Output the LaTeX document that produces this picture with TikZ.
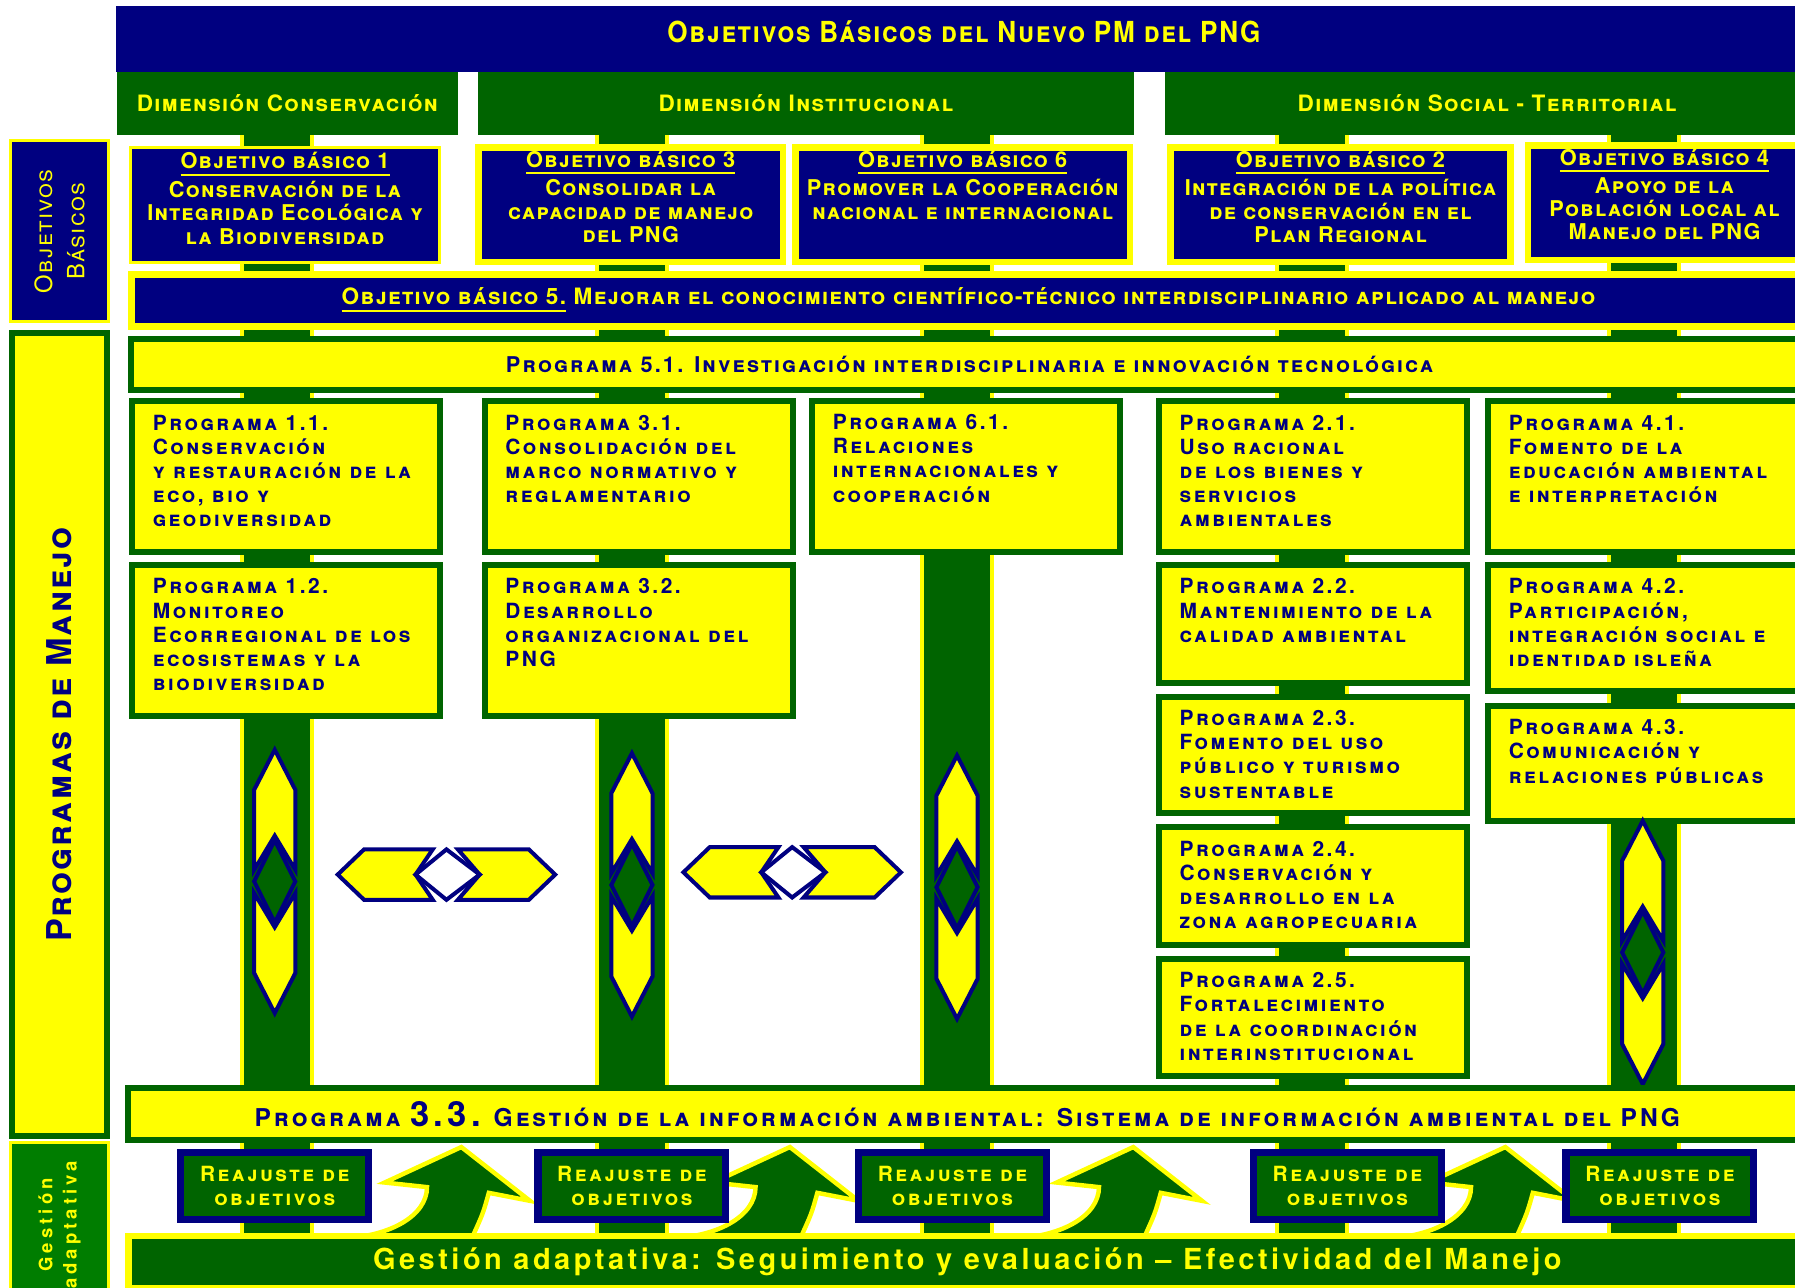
\documentclass[tikz,border=0pt]{standalone}
\usepackage{fontspec}
\setmainfont{TeX Gyre Heros}
\newfontfamily\titlefont{TeX Gyre Heros}[FakeStretch=0.9,LetterSpace=6]
\newfontfamily\headfont{TeX Gyre Heros}[LetterSpace=6]
\newfontfamily\midfont{TeX Gyre Heros}[LetterSpace=10]
\newfontfamily\progfont{TeX Gyre Heros}[LetterSpace=12]
\newfontfamily\widefont{TeX Gyre Heros}[LetterSpace=22]
\usetikzlibrary{positioning,calc}
\definecolor{PNGNavy}{RGB}{0,0,128}
\definecolor{PNGGreen}{RGB}{0,100,0}
\definecolor{PNGLeaf}{RGB}{0,125,0}
\definecolor{PNGYellow}{RGB}{255,255,0}

\begin{document}
\begin{tikzpicture}[x=0.01cm,y=-0.01cm,
  navybar/.style={fill=PNGNavy,inner sep=0,text=PNGYellow,
                  font=\titlefont\bfseries\scshape\fontsize{7.2}{8}\selectfont},
  dimbar/.style={fill=PNGGreen,inner sep=0,minimum height=0.55cm,text=PNGYellow,
                 font=\headfont\bfseries\scshape\fontsize{5.6}{6.5}\selectfont},
  objbox/.style={fill=PNGNavy,draw=PNGYellow,line width=1.6pt,inner sep=0,
                 minimum height=1.0cm},
  objtxt/.style={anchor=north,inner sep=0,align=center,text=PNGYellow,
                 font=\headfont\bfseries\scshape\fontsize{5.4}{5.8}\selectfont},
  progbox/.style={fill=PNGYellow,draw=PNGGreen,line width=1.5pt,inner sep=0,
                  minimum width=2.69cm},
  progtxt/.style={anchor=north west,inner sep=0,align=left,text=PNGNavy,
                  font=\progfont\bfseries\scshape\fontsize{5.2}{6}\selectfont},
  longbar/.style={fill=PNGYellow,draw=PNGGreen,line width=1.5pt,inner sep=0,
                  minimum width=14.65cm,text=PNGNavy},
  reajbox/.style={fill=PNGGreen,draw=PNGNavy,line width=1.8pt,inner sep=0,
                  minimum width=1.64cm,minimum height=0.58cm,align=center,text=PNGYellow,
                  font=\progfont\bfseries\scshape\fontsize{5.2}{6.2}\selectfont},
  dblarrow/.style={fill=PNGYellow,draw=PNGNavy,line width=1pt},
  turnarrow/.style={fill=PNGGreen,draw=PNGYellow,line width=1.1pt},
]
\useasboundingbox (0,0) rectangle (1568,1125);
\clip (0,0) rectangle (1568,1125);

% columns behind the boxes
\foreach \cx in {242,552,836,1146,1436} {
  \fill[PNGYellow] (\cx-32,100) rectangle (\cx+32,1090);
  \fill[PNGGreen] (\cx-29,100) rectangle (\cx+29,1090);
}

% heading and dimensions
\node[navybar,minimum width=14.8cm,minimum height=0.58cm,text depth=0.12cm] (title) at (842,34)
  {Objetivos Básicos del Nuevo PM del PNG};
\node[dimbar,minimum width=2.98cm] (dimcons) at (251,90.5) {Dimensión Conservación};
\node[dimbar,minimum width=5.72cm] (diminst) at (704,90.5) {Dimensión Institucional};
\node[dimbar,minimum width=5.62cm] (dimsoc) at (1299,90.5) {Dimensión Social - Territorial};

% basic objectives
\node[objbox,line width=0.8pt,minimum width=2.7cm] (ob1) at (249,179) {};
\node[objbox,minimum width=2.66cm] (ob3) at (551,179) {};
\node[objbox,minimum width=2.92cm] (ob6) at (841,179) {};
\node[objbox,minimum width=2.97cm] (ob2) at (1171,179) {};
\node[objbox,minimum width=2.38cm] (ob4) at (1454,177) {};
\node[objtxt] (ob1t) at ([yshift=-0.05cm]ob1.north)
  {\underline{Objetivo básico 1}\\Conservación de la\\Integridad Ecológica y\\la Biodiversidad};
\node[objtxt] (ob3t) at ([yshift=-0.05cm]ob3.north)
  {\underline{Objetivo básico 3}\\Consolidar la\\capacidad de manejo\\del PNG};
\node[objtxt] (ob6t) at ([yshift=-0.05cm]ob6.north)
  {\underline{Objetivo básico 6}\\Promover la Cooperación\\nacional e internacional};
\node[objtxt] (ob2t) at ([yshift=-0.05cm]ob2.north)
  {\underline{Objetivo básico 2}\\Integración de la política\\de conservación en el\\Plan Regional};
\node[objtxt] (ob4t) at ([yshift=-0.05cm]ob4.north)
  {\underline{Objetivo básico 4}\\Apoyo de la\\Población local al\\Manejo del PNG};
\node[objbox,line width=1.8pt,minimum width=14.62cm,minimum height=0.46cm,
      font=\headfont\bfseries\scshape\fontsize{5.6}{6}\selectfont,text=PNGYellow] (ob5) at (846,262.5)
  {\underline{Objetivo básico 5.} Mejorar el conocimiento científico-técnico interdisciplinario aplicado al manejo};

% programmes
\node[longbar,minimum height=0.44cm,
      font=\midfont\bfseries\scshape\fontsize{5.4}{6}\selectfont] (p51) at (847,318.5)
  {Programa 5.1. Investigación interdisciplinaria e innovación tecnológica};

\node[progbox,minimum height=1.32cm] (p11) at (250,416.5) {};
\node[progbox,minimum height=1.32cm] (p12) at (250,559.5) {};
\node[progbox,minimum height=1.32cm] (p31) at (558,416.5) {};
\node[progbox,minimum height=1.32cm] (p32) at (558,559.5) {};
\node[progbox,minimum height=1.32cm] (p61) at (844,416) {};
\node[progbox,minimum height=1.32cm] (p21) at (1147,416.5) {};
\node[progbox,minimum height=1.03cm] (p22) at (1147,545) {};
\node[progbox,minimum height=1.02cm] (p23) at (1147,659.5) {};
\node[progbox,minimum height=1.03cm] (p24) at (1147,774) {};
\node[progbox,minimum height=1.02cm] (p25) at (1147,888.5) {};
\node[progbox,minimum height=1.32cm,minimum width=2.74cm] (p41) at (1437,416.5) {};
\node[progbox,minimum height=1.10cm,minimum width=2.74cm] (p42) at (1437,548.5) {};
\node[progbox,minimum height=1.01cm,minimum width=2.74cm] (p43) at (1437,667) {};

\node[progtxt] (p11t) at ([shift={(20,14)}]p11.north west)
  {Programa 1.1.\\Conservación\\y restauración de la\\eco, bio y\\geodiversidad};
\node[progtxt] (p12t) at ([shift={(20,14)}]p12.north west)
  {Programa 1.2.\\Monitoreo\\Ecorregional de los\\ecosistemas y la\\biodiversidad};
\node[progtxt] (p31t) at ([shift={(20,14)}]p31.north west)
  {Programa 3.1.\\Consolidación del\\marco normativo y\\reglamentario};
\node[progtxt] (p32t) at ([shift={(20,14)}]p32.north west)
  {Programa 3.2.\\Desarrollo\\organizacional del\\PNG};
\node[progtxt] (p61t) at ([shift={(20,14)}]p61.north west)
  {Programa 6.1.\\Relaciones\\internacionales y\\cooperación};
\node[progtxt] (p21t) at ([shift={(20,14)}]p21.north west)
  {Programa 2.1.\\Uso racional\\de los bienes y\\servicios\\ambientales};
\node[progtxt] (p22t) at ([shift={(20,14)}]p22.north west)
  {Programa 2.2.\\Mantenimiento de la\\calidad ambiental};
\node[progtxt] (p23t) at ([shift={(20,14)}]p23.north west)
  {Programa 2.3.\\Fomento del uso\\público y turismo\\sustentable};
\node[progtxt] (p24t) at ([shift={(20,14)}]p24.north west)
  {Programa 2.4.\\Conservación y\\desarrollo en la\\zona agropecuaria};
\node[progtxt] (p25t) at ([shift={(20,14)}]p25.north west)
  {Programa 2.5.\\Fortalecimiento\\de la coordinación\\interinstitucional};
\node[progtxt] (p41t) at ([shift={(20,14)}]p41.north west)
  {Programa 4.1.\\Fomento de la\\educación ambiental\\e interpretación};
\node[progtxt] (p42t) at ([shift={(20,14)}]p42.north west)
  {Programa 4.2.\\Participación,\\integración social e\\identidad isleña};
\node[progtxt] (p43t) at ([shift={(20,14)}]p43.north west)
  {Programa 4.3.\\Comunicación y\\relaciones públicas};

% vertical double arrows
\foreach \cx/\cy in {240/770,552/773,836/775,1435/832} {
  \begin{scope}[shift={(\cx,\cy)}]
    \draw[dblarrow] (0,-115) -- (18,-80) -- (18,-10) -- (0,-40) -- (-18,-10) -- (-18,-80) -- cycle;
    \draw[dblarrow] (0,115) -- (18,80) -- (18,10) -- (0,40) -- (-18,10) -- (-18,80) -- cycle;
    \draw[dblarrow,fill=PNGGreen] (0,-36) -- (18,0) -- (0,36) -- (-18,0) -- cycle;
  \end{scope}
}
% horizontal double arrows
\foreach \cx/\cy in {390/764,692/762} {
  \begin{scope}[shift={(\cx,\cy)}]
    \draw[dblarrow] (-95,0) -- (-72,-22) -- (-12,-22) -- (-27,0) -- (-12,22) -- (-72,22) -- cycle;
    \draw[dblarrow] (95,0) -- (72,-22) -- (10,-22) -- (29,0) -- (10,22) -- (72,22) -- cycle;
    \draw[dblarrow,fill=white] (0,-22) -- (29,0) -- (0,22) -- (-27,0) -- cycle;
  \end{scope}
}

% adaptive management loop
\foreach \tx in {403,690,990,1315}
  \draw[turnarrow,shift={(\tx,1002)}] (0,0) -- (60,47) -- (24,40)
    .. controls (19,58) .. (9,80) -- (-112,80)
    .. controls (-63,80) and (-30,60) .. (-30,35) -- (-67,31) -- cycle;

\node[longbar,minimum height=0.45cm,
      font=\progfont\bfseries\scshape\fontsize{6.1}{7}\selectfont] (p33) at (845,973)
  {Programa {\fontsize{8.6}{9}\selectfont 3.3.} Gestión de la información ambiental: Sistema de información ambiental del PNG};

\node[reajbox] (reaj1) at (240,1036) {Reajuste de\\objetivos};
\node[reajbox] (reaj2) at (552,1036) {Reajuste de\\objetivos};
\node[reajbox] (reaj3) at (832,1036) {Reajuste de\\objetivos};
\node[reajbox] (reaj4) at (1177,1036) {Reajuste de\\objetivos};
\node[reajbox] (reaj5) at (1450,1036) {Reajuste de\\objetivos};

\node[fill=PNGGreen,draw=PNGYellow,line width=1.6pt,inner sep=0,
      minimum width=14.65cm,minimum height=0.46cm,text=PNGYellow,
      font=\progfont\bfseries\fontsize{7.2}{8}\selectfont] (gest) at (845,1102.5)
  {Gestión adaptativa: Seguimiento y evaluación – Efectividad del Manejo};

% side labels
\node[fill=PNGNavy,draw=PNGYellow,line width=0.8pt,minimum width=0.86cm,
      minimum height=1.58cm] (lobj) at (52,202) {};
\node[rotate=90,align=center,text=PNGYellow,inner sep=0,
      font=\headfont\scshape\fontsize{5.9}{8}\selectfont] (lobjt) at (lobj.center) {Objetivos\\Básicos};
\node[fill=PNGYellow,draw=PNGGreen,line width=1.5pt,minimum width=0.83cm,
      minimum height=7.01cm] (lprog) at (52,642) {};
\node[rotate=90,text=PNGNavy,inner sep=0,
      font=\headfont\bfseries\scshape\fontsize{8.5}{10}\selectfont] (lprogt) at (lprog.center) {Programas de Manejo};
\node[fill=PNGLeaf,draw=PNGYellow,line width=0.8pt,minimum width=0.86cm,
      minimum height=1.4cm] (lgest) at (52,1068) {};
\node[rotate=90,align=center,text=PNGYellow,inner sep=0,
      font=\widefont\bfseries\fontsize{4.6}{6}\selectfont] (lgestt) at (52,1070) {Gestión\\adaptativa};
\end{tikzpicture}
\end{document}
